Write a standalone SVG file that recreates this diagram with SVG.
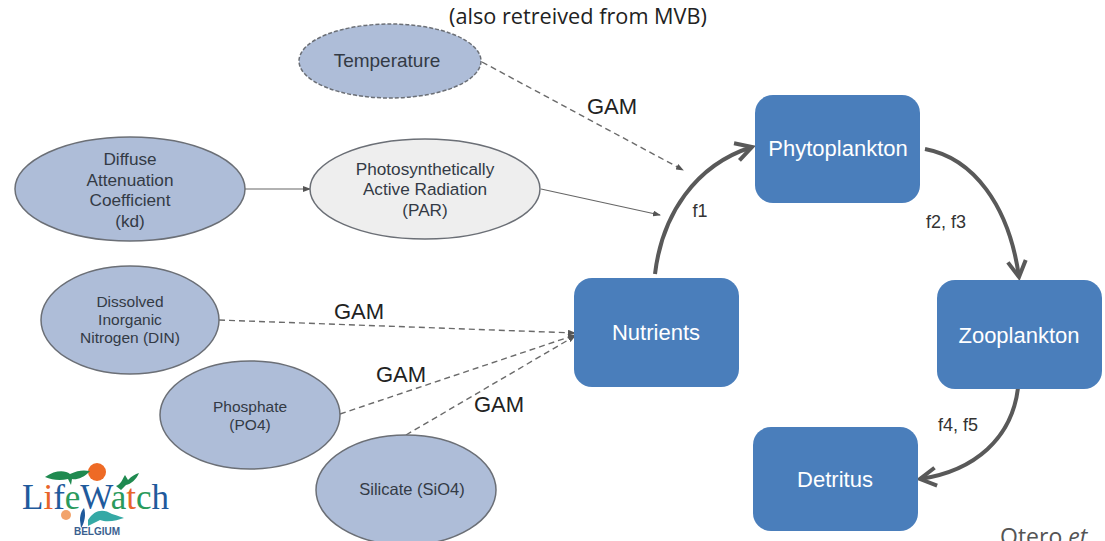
<svg xmlns="http://www.w3.org/2000/svg" width="1105" height="541" viewBox="0 0 1105 541">
<style>
.t{font-family:"Liberation Sans",Arial,sans-serif;fill:#333a45;text-anchor:middle}
.s14{font-size:15.5px}.s16{font-size:17.2px}.s18{font-size:19px}.s17{font-size:16.5px}
.gam{font-family:"Liberation Sans",Arial,sans-serif;font-size:22px;fill:#222;text-anchor:middle}
.lab{font-family:"Liberation Sans",Arial,sans-serif;font-size:18px;fill:#333;text-anchor:middle}
.b{fill:#aebdd8;stroke:#6b6f76;stroke-width:1.5}
.box{fill:#4a7ebb}
.bt{font-family:"Liberation Sans",Arial,sans-serif;font-size:22px;fill:#fff;text-anchor:middle}
.thin{fill:none;stroke:#666;stroke-width:1.2}
.dash{fill:none;stroke:#6a6a6a;stroke-width:1.4;stroke-dasharray:6 4}
.thick{fill:none;stroke:#595959;stroke-width:4}
</style>
<defs>
<marker id="sm" markerWidth="8" markerHeight="6" refX="7" refY="3" orient="auto" markerUnits="userSpaceOnUse"><path d="M0 0L8 3L0 6z" fill="#555"/></marker>
<marker id="big" markerWidth="26" markerHeight="26" refX="20" refY="13" orient="auto" markerUnits="userSpaceOnUse"><path d="M4 4L20 13L4 22" fill="none" stroke="#595959" stroke-width="4"/></marker>
</defs>
<rect width="1105" height="541" fill="#fff"/>
<text x="578" y="24" font-family="'Open Sans','Noto Sans',sans-serif" font-size="21.7" fill="#222" text-anchor="middle">(also retreived from MVB)</text>
<g id="connectors">
<path class="dash" d="M482 62L683 170" marker-end="url(#sm)"/>
<path class="thin" d="M245 189L310 189" marker-end="url(#sm)"/>
<path class="thin" d="M541 189L660 215" marker-end="url(#sm)"/>
<path class="dash" d="M219 320L575 333" marker-end="url(#sm)"/>
<path class="dash" d="M340 414L575 335" marker-end="url(#sm)"/>
<path class="dash" d="M406 435L575 336" marker-end="url(#sm)"/>
<path class="thick" d="M655 274C662 215 695 165 752 147" marker-end="url(#big)"/>
<path class="thick" d="M925 149C973 158 1009 205 1019 277" marker-end="url(#big)"/>
<path class="thick" d="M1018 388C1012 438 975 471 920 479" marker-end="url(#big)"/>
<text class="gam" x="612" y="114">GAM</text>
<text class="gam" x="359" y="319">GAM</text>
<text class="gam" x="401" y="382">GAM</text>
<text class="gam" x="499" y="412">GAM</text>
<text class="lab" x="700" y="217">f1</text>
<text class="lab" x="946" y="228">f2, f3</text>
<text class="lab" x="958" y="431">f4, f5</text>
</g>
<g id="temperature"><ellipse class="b" cx="390" cy="61" rx="91" ry="37" stroke-dasharray="4 2"/><text class="t s18" x="387" y="67">Temperature</text></g>
<g id="kd"><ellipse class="b" cx="130" cy="189" rx="115" ry="52"/><text class="t s16"><tspan x="130" y="165">Diffuse</tspan><tspan x="130" y="186">Attenuation</tspan><tspan x="130" y="206">Coefficient</tspan><tspan x="130" y="227">(kd)</tspan></text></g>
<g id="par"><ellipse cx="425" cy="189" rx="115" ry="50" fill="#eeeeee" stroke="#6b6f76" stroke-width="1.5"/><text class="t s16"><tspan x="425" y="175">Photosynthetically</tspan><tspan x="425" y="195">Active Radiation</tspan><tspan x="425" y="216">(PAR)</tspan></text></g>
<g id="din"><ellipse class="b" cx="130" cy="320" rx="89" ry="54"/><text class="t s14"><tspan x="130" y="307">Dissolved</tspan><tspan x="130" y="325">Inorganic</tspan><tspan x="130" y="343">Nitrogen (DIN)</tspan></text></g>
<g id="phosphate"><ellipse class="b" cx="250" cy="415" rx="90" ry="54"/><text class="t s14"><tspan x="250" y="412">Phosphate</tspan><tspan x="250" y="430">(PO4)</tspan></text></g>
<g id="silicate"><ellipse class="b" cx="406" cy="490" rx="90" ry="55"/><text class="t s17" x="412" y="495">Silicate (SiO4)</text></g>
<g id="phytoplankton"><rect class="box" x="755" y="95" width="165" height="108" rx="18"/><text class="bt" x="838" y="156">Phytoplankton</text></g>
<g id="nutrients"><rect class="box" x="574" y="278" width="165" height="109" rx="18"/><text class="bt" x="656" y="340">Nutrients</text></g>
<g id="zooplankton"><rect class="box" x="937" y="280" width="165" height="109" rx="18"/><text class="bt" x="1019" y="343">Zooplankton</text></g>
<g id="detritus"><rect class="box" x="753" y="427" width="165" height="104" rx="18"/><text class="bt" x="835" y="487">Detritus</text></g>
<text x="1000" y="545" font-family="'Open Sans','Noto Sans',sans-serif" font-size="23" fill="#555">Otero <tspan font-style="italic">et</tspan></text>
<g id="logo">
<circle cx="97" cy="472" r="9" fill="#ee6a25"/>
<path d="M45 477C55 470 65 470 70 474C78 470 84 470 90 471C84 478 76 480 72 479L71 485L68 479C60 481 52 480 45 477z" fill="#1f8a50"/>
<path d="M116 486C121 484 122 480 125 475L128 480C132 476 135 474 139 473C136 480 131 484 126 485L121 490z" fill="#1f8a50"/>
<text x="22" y="509" font-family="'Liberation Serif',serif" font-size="36" textLength="147" lengthAdjust="spacingAndGlyphs" fill="#1f5a9c">L<tspan fill="#e8642a">i</tspan><tspan fill="#1f5a9c">f</tspan><tspan fill="#2a9a5c">e</tspan>W<tspan fill="#2a9a5c">a</tspan><tspan fill="#e8642a">t</tspan><tspan fill="#2a9a5c">c</tspan>h</text>
<path d="M88 520C94 510 103 508 112 514C118 516 122 517 124 518C118 520 108 523 100 520L88 526z" fill="#35a9a5"/>
<path d="M80 520C80 514 82 510 84 508C86 514 85 522 81 528z" fill="#1f5a9c"/>
<circle cx="66" cy="515" r="5" fill="#f2a36b"/>
<text x="97" y="535" font-family="'Liberation Sans',sans-serif" font-size="10" font-weight="bold" fill="#3a5f8f" text-anchor="middle">BELGIUM</text>
</g>
</svg>
